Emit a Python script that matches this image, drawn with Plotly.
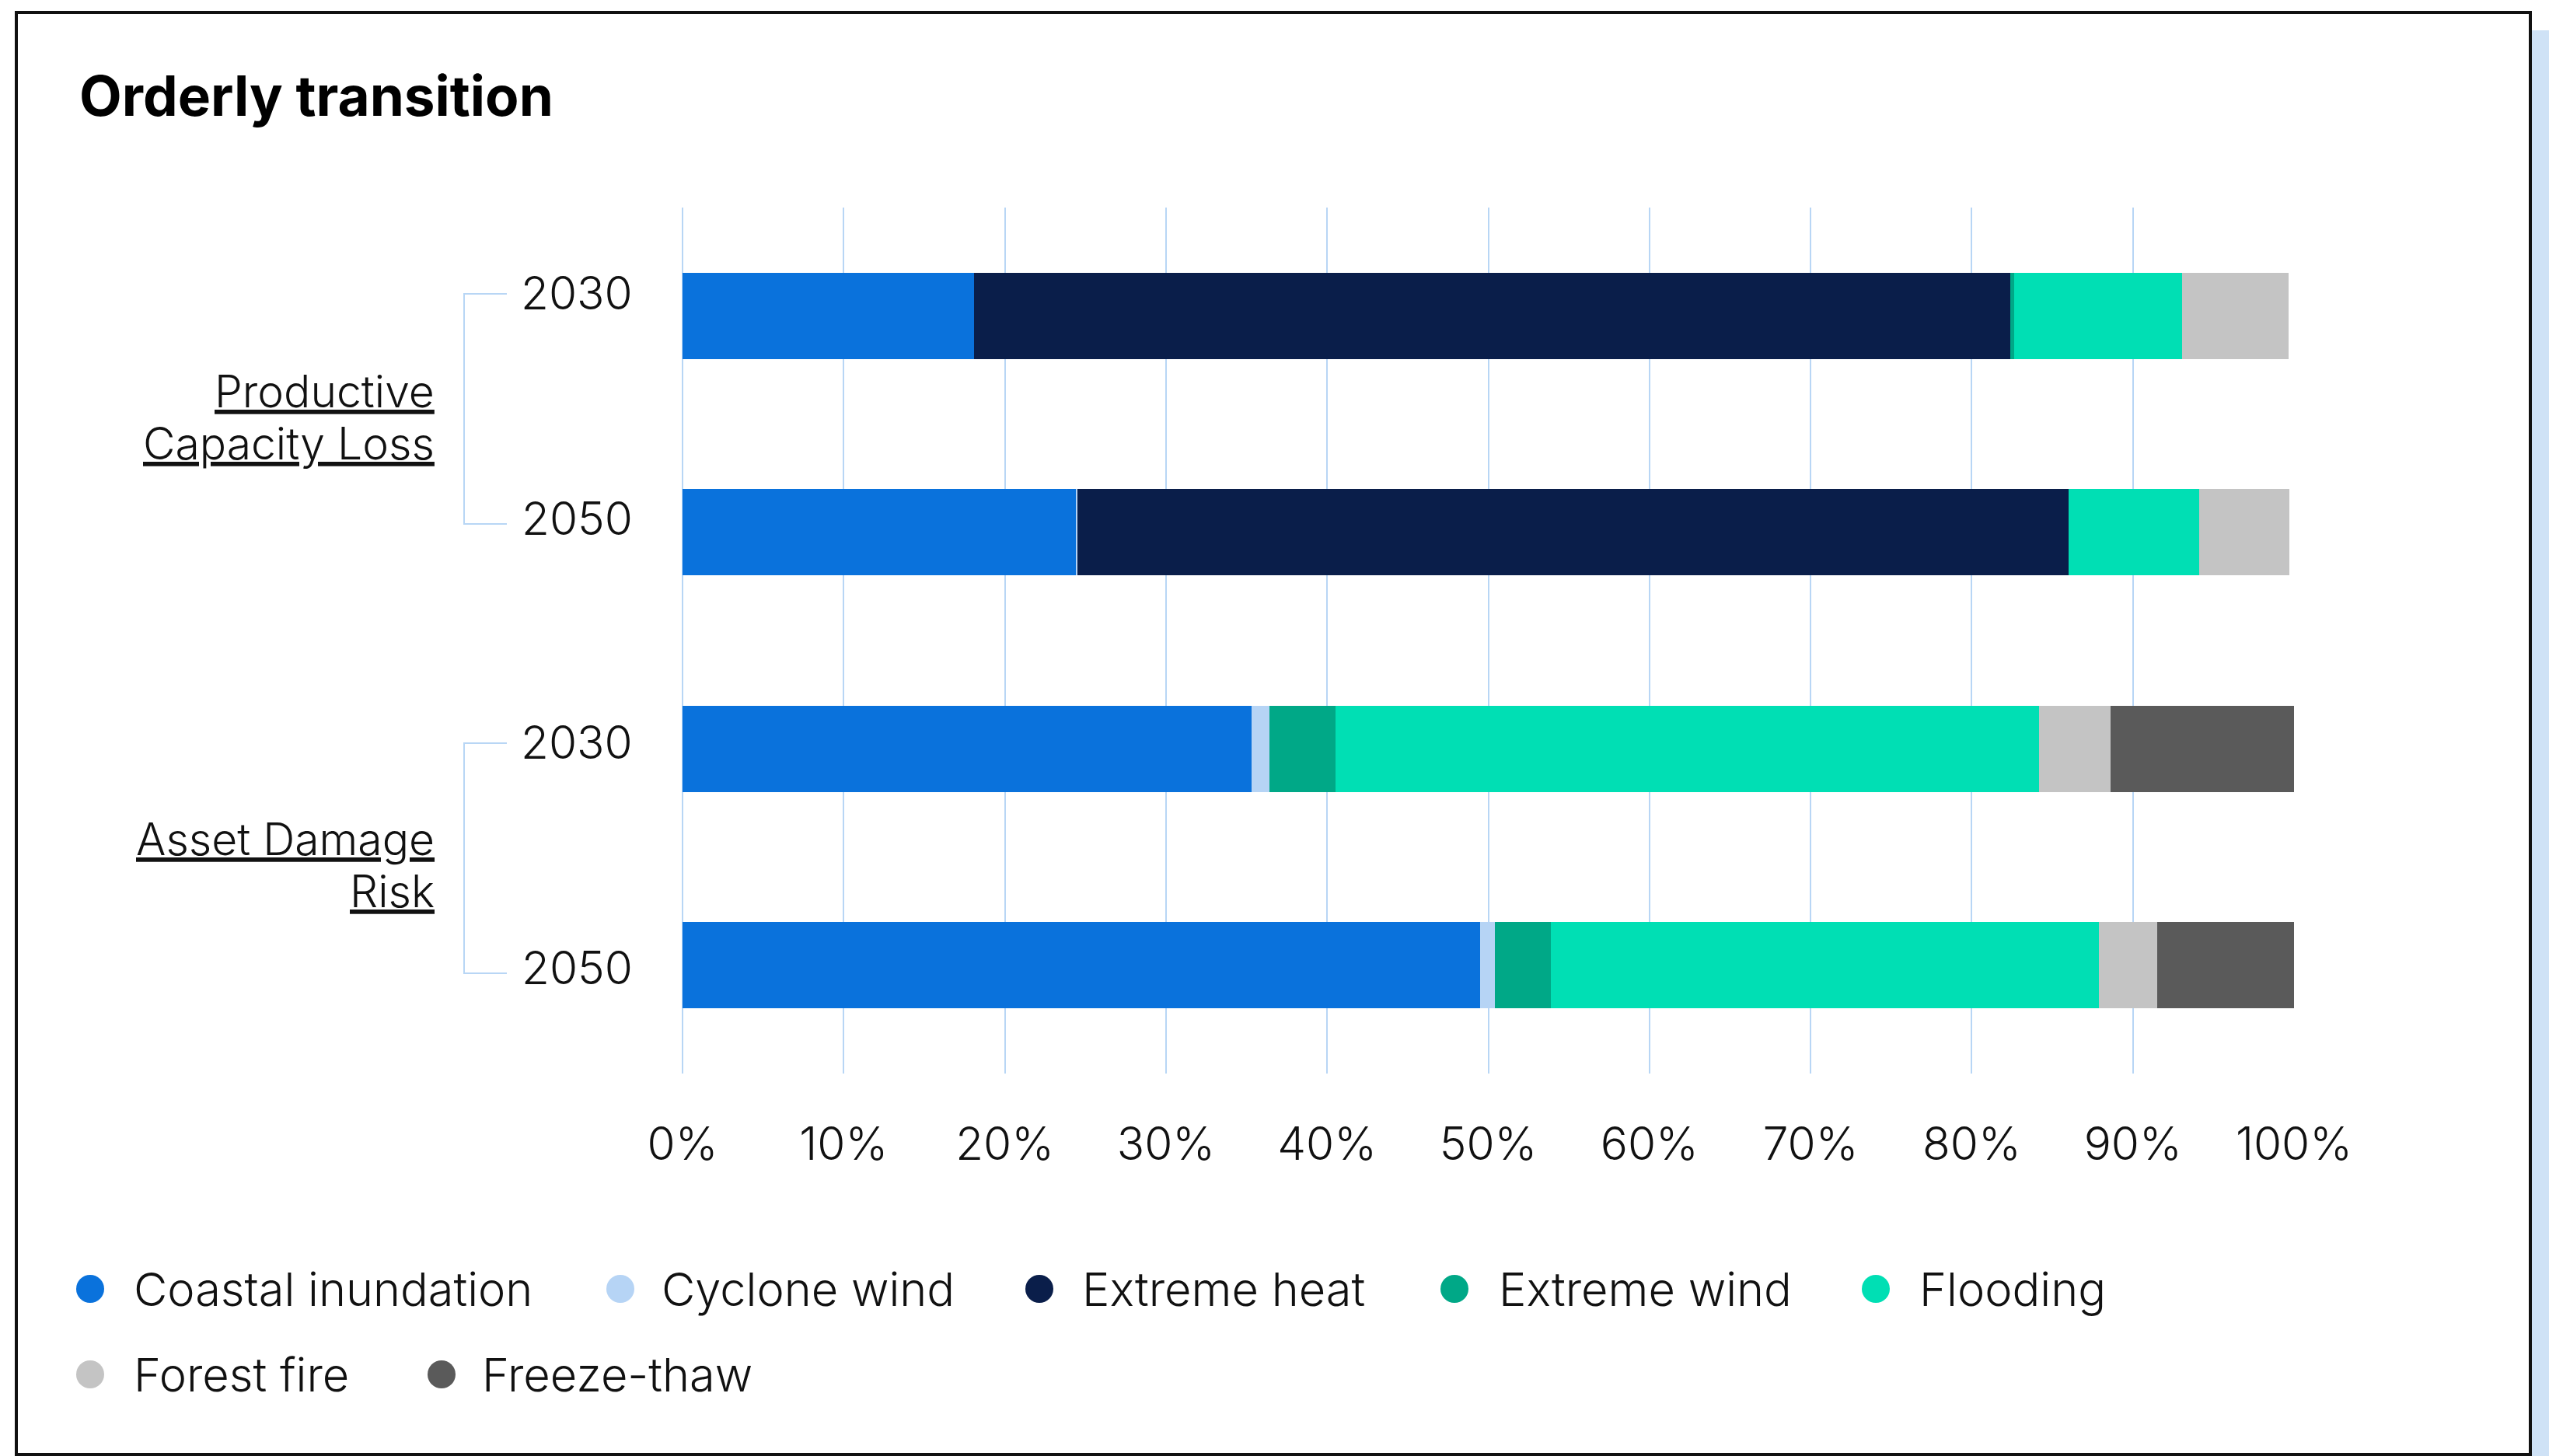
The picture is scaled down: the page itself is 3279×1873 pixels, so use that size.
import plotly.graph_objects as go

# ---------------- data ----------------
categories = ["Productive Capacity Loss 2030", "Productive Capacity Loss 2050",
              "Asset Damage Risk 2030", "Asset Damage Risk 2050"]
year_labels = ["2030", "2050", "2030", "2050"]
group_lines = [["Productive", "Capacity Loss"], ["Asset Damage", "Risk"]]

series_names = ["Coastal inundation", "Cyclone wind", "Extreme heat", "Extreme wind",
                "Flooding", "Forest fire", "Freeze-thaw"]
coastal_inundation = [18.1, 24.4, 35.3, 49.5]
cyclone_wind = [0.0, 0.1, 1.1, 0.9]
extreme_heat = [64.3, 61.5, 0.0, 0.0]
extreme_wind = [0.25, 0.0, 4.1, 3.5]
flooding = [10.4, 8.1, 43.7, 34.0]
forest_fire = [6.6, 5.6, 4.4, 3.6]
freeze_thaw = [0.0, 0.0, 11.4, 8.5]
series_values = [coastal_inundation, cyclone_wind, extreme_heat, extreme_wind,
                 flooding, forest_fire, freeze_thaw]
x_ticks = [0, 10, 20, 30, 40, 50, 60, 70, 80, 90, 100]

colors = ["#0A72DC", "#B6D4F5", "#0A1E4A", "#00A887", "#00DFB4", "#C4C4C4", "#5A5A5A"]

# ---------------- layout geometry (pixels) ----------------
W, H = 3279, 1873
L, R, T, B = 878, 2951, 267, 1381
FONT = "Inter"
GRID = "#B8D6F5"
TXT = 58.5


def px(x):
    return (x - L) / (R - L)


def py(y):
    return (B - y) / (B - T)


fig = go.Figure()
for name, vals, col in zip(series_names, series_values, colors):
    fig.add_trace(go.Bar(
        y=categories, x=vals, name=name, orientation="h",
        marker=dict(color=col, line=dict(width=0)),
        showlegend=False,
        hovertemplate="%{y}<br>" + name + ": %{x}%<extra></extra>",
    ))

annotations = []
shapes = []

# title
annotations.append(dict(text="<b>Orderly transition</b>", x=px(100), y=py(123),
                        xref="paper", yref="paper", xanchor="left", yanchor="middle",
                        showarrow=False, font=dict(family=FONT, size=71, color="#000")))

# year labels
year_y = [376, 666, 954, 1244]
for lab, yy in zip(year_labels, year_y):
    annotations.append(dict(text=lab, x=px(816), y=py(yy), xref="paper", yref="paper",
                            xanchor="right", yanchor="middle", showarrow=False,
                            font=dict(family=FONT, size=TXT, color="#111", weight=300)))

# group labels (underlined)
group_y = [[503, 570], [1079, 1146]]
for lines, ys in zip(group_lines, group_y):
    for line, yy in zip(lines, ys):
        annotations.append(dict(text='<span style="text-decoration:underline">' + line + '</span>',
                                x=px(561), y=py(yy), xref="paper", yref="paper",
                                xanchor="right", yanchor="middle", showarrow=False,
                                font=dict(family=FONT, size=57, color="#111", weight=300)))

# brackets
for (y0, y1) in [(378, 674), (956, 1252)]:
    shapes.append(dict(type="path", xref="paper", yref="paper",
                       path=f"M {px(652)} {py(y0)} L {px(597)} {py(y0)} L {px(597)} {py(y1)} L {px(652)} {py(y1)}",
                       line=dict(color=GRID, width=2)))

# legend (manual, circles)
legend_pos = [(116, 173, 1658), (798, 852, 1658), (1337, 1393, 1658), (1871, 1929, 1658),
              (2413, 2470, 1658), (116, 173, 1768), (568, 621, 1768)]
for name, col, (mx, tx, my) in zip(series_names, colors, legend_pos):
    shapes.append(dict(type="circle", xref="paper", yref="paper",
                       x0=px(mx - 18), x1=px(mx + 18), y0=py(my + 18), y1=py(my - 18),
                       fillcolor=col, line=dict(width=0)))
    annotations.append(dict(text=name, x=px(tx - 3), y=py(my), xref="paper", yref="paper",
                            xanchor="left", yanchor="middle", showarrow=False,
                            font=dict(family=FONT, size=59.5, color="#111", weight=300)))

# outer frame and right strip
shapes.append(dict(type="rect", xref="paper", yref="paper",
                   x0=px(3257), x1=px(3290), y0=py(39), y1=py(1880),
                   fillcolor="#CFE2F6", line=dict(width=0), layer="below"))
shapes.append(dict(type="rect", xref="paper", yref="paper",
                   x0=px(21), x1=px(3255), y0=py(16), y1=py(1871),
                   fillcolor="rgba(0,0,0,0)", line=dict(color="#111", width=4)))

fig.update_layout(
    width=W, height=H,
    margin=dict(l=L, r=W - R, t=T, b=H - B, pad=0),
    paper_bgcolor="white", plot_bgcolor="white",
    barmode="stack", bargap=0.6,
    font=dict(family=FONT, size=TXT, color="#111"),
    xaxis=dict(range=[0, 100], tickvals=x_ticks, ticktext=[f"{v}%" for v in x_ticks],
               showgrid=True, gridcolor=GRID, gridwidth=2,
               zeroline=True, zerolinecolor=GRID, zerolinewidth=2,
               showline=False, ticks="outside", ticklen=40, tickcolor="rgba(0,0,0,0)",
               tickfont=dict(family=FONT, size=TXT, color="#111", weight=300), fixedrange=True),
    yaxis=dict(categoryorder="array", categoryarray=categories, range=[3.5, -0.5],
               showticklabels=False, showgrid=False, zeroline=False, showline=False,
               fixedrange=True),
    annotations=annotations, shapes=shapes,
    showlegend=False,
)

fig.write_html("out.html")
